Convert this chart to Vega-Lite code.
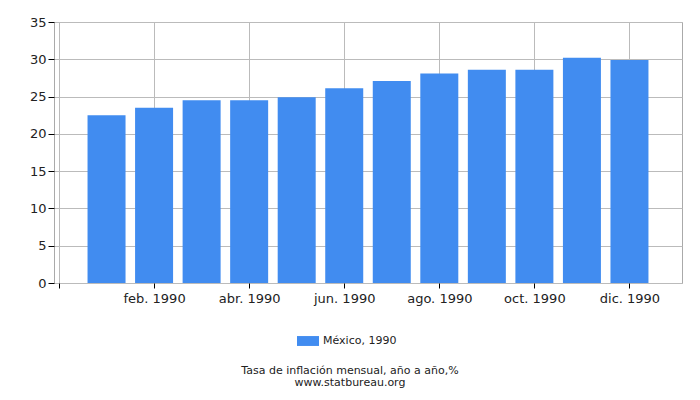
{
  "$schema": "https://vega.github.io/schema/vega-lite/v6.json",
  "autosize": "none",
  "width": 628,
  "height": 261,
  "padding": {"left": 54, "top": 22, "right": 18, "bottom": 117},
  "background": "#ffffff",
  "config": {
    "view": {"stroke": "#aaaaaa", "strokeWidth": 1},
    "font": "DejaVu Sans"
  },
  "title": {
    "text": ["Tasa de inflación mensual, año a año,%", "www.statbureau.org"],
    "orient": "bottom",
    "anchor": "middle",
    "dx": -18,
    "offset": 19,
    "fontSize": 11,
    "fontWeight": "normal",
    "lineHeight": 12,
    "color": "#222222"
  },
  "data": {
    "values": [
      {"month": 1, "series": "México, 1990", "value": 22.5},
      {"month": 2, "series": "México, 1990", "value": 23.5},
      {"month": 3, "series": "México, 1990", "value": 24.5},
      {"month": 4, "series": "México, 1990", "value": 24.5},
      {"month": 5, "series": "México, 1990", "value": 24.9},
      {"month": 6, "series": "México, 1990", "value": 26.1},
      {"month": 7, "series": "México, 1990", "value": 27.1},
      {"month": 8, "series": "México, 1990", "value": 28.1},
      {"month": 9, "series": "México, 1990", "value": 28.6},
      {"month": 10, "series": "México, 1990", "value": 28.6},
      {"month": 11, "series": "México, 1990", "value": 30.2},
      {"month": 12, "series": "México, 1990", "value": 29.9}
    ]
  },
  "mark": {"type": "bar", "width": 38},
  "encoding": {
    "x": {
      "field": "month",
      "type": "quantitative",
      "scale": {"domain": [0, 13], "nice": false, "zero": false},
      "axis": {
        "title": null,
        "values": [0, 2, 4, 6, 8, 10, 12],
        "labelExpr": "datum.value == 0 ? '' : ['ene.','feb.','mar.','abr.','may.','jun.','jul.','ago.','sep.','oct.','nov.','dic.'][datum.value - 1] + ' 1990'",
        "domain": false,
        "grid": true,
        "gridColor": "#bbbbbb",
        "tickColor": "#000000",
        "tickSize": 5,
        "labelFontSize": 13,
        "labelColor": "#222222",
        "labelPadding": 4,
        "labelFlush": false
      }
    },
    "y": {
      "field": "value",
      "type": "quantitative",
      "scale": {"domain": [0, 35], "nice": false},
      "axis": {
        "title": null,
        "values": [0, 5, 10, 15, 20, 25, 30, 35],
        "domain": false,
        "grid": true,
        "gridColor": "#bbbbbb",
        "tickColor": "#000000",
        "tickSize": 6,
        "labelFontSize": 13,
        "labelColor": "#222222",
        "labelPadding": 2
      }
    },
    "color": {
      "field": "series",
      "type": "nominal",
      "scale": {"range": ["#418cf0"]},
      "legend": {
        "title": null,
        "orient": "none",
        "legendX": 243,
        "legendY": 308,
        "symbolType": "M-1,-0.45L1,-0.45L1,0.45L-1,0.45Z",
        "symbolSize": 484,
        "symbolStrokeWidth": 0,
        "symbolOpacity": 1,
        "labelFontSize": 11,
        "labelColor": "#222222",
        "labelOffset": 4
      }
    }
  }
}
